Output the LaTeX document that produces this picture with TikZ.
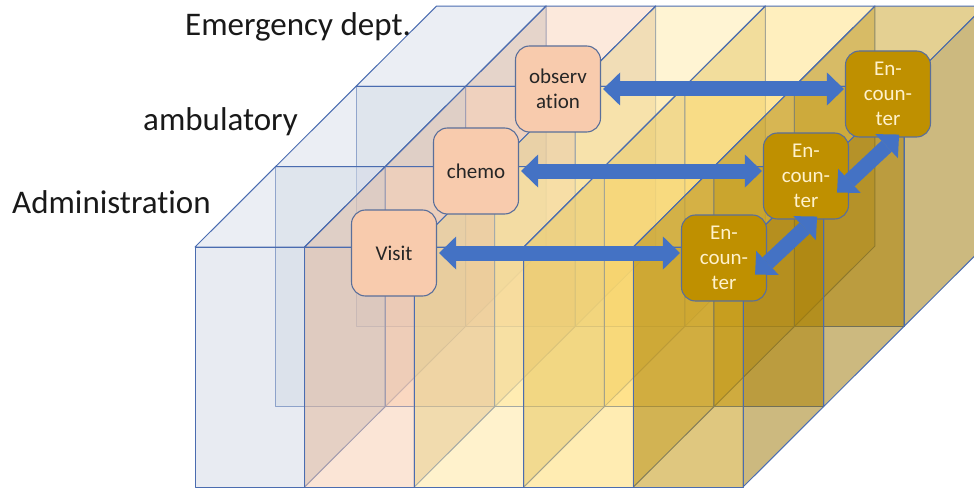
\documentclass[tikz,border=0pt]{standalone}
\usepackage{fontspec}
\setmainfont{Carlito}[Ligatures=NoCommon]
\usetikzlibrary{arrows.meta,positioning,calc}

\definecolor{edgeblue}{HTML}{4A6CB0}
\definecolor{boxline}{HTML}{5A6F9A}
\definecolor{arrowblue}{HTML}{4472C4}
\definecolor{colA}{HTML}{D1D8E5}
\definecolor{colB}{HTML}{F8CBAD}
\definecolor{colC}{HTML}{FFE699}
\definecolor{colD}{HTML}{FFD966}
\definecolor{colE}{HTML}{BF9000}
\definecolor{enctext}{HTML}{FFF2CC}

\tikzset{
    face/.style={
        draw=edgeblue,
        line width=1pt,
        line join=round,
        fill opacity=0.5
    },
    unitbox/.style={
        rectangle,
        rounded corners=14pt,
        draw=boxline, line width=1.1pt,
        minimum width=85pt,
        minimum height=86pt,
        inner sep=2pt,
        align=center,
        font=\fontsize{21}{25}\selectfont
    },
    dblarrow/.style={
        draw=arrowblue,
        line width=15pt,
        {Triangle[length=17pt,width=33pt,line width=0pt]}-{Triangle[length=17pt,width=33pt,line width=0pt]}
    }
}

\begin{document}
\begin{tikzpicture}[
            x=1pt, y=1pt,
            visitbox/.style={unitbox, fill=colB, text=black!85},
            encbox/.style={unitbox, fill=colE, text=enctext},
            layer/.style={
                anchor=base west,
                inner sep=0pt,
                text=black!90,
                font=\fontsize{33}{40}\selectfont
            }]
    \clip (0,0) rectangle (974,491);

    \foreach \k in {2,1,0}{
        \foreach \c/\col in {0/colA,1/colB,2/colC,3/colD,4/colE}{
            \coordinate (o) at ({195+109.6*\c+80.5*\k},{4+80.3*\k});
            \path[face, fill=\col!80!black] ($(o)+(109.6,0)$) -- ++(0,240) -- ++(80.5,80.3) -- ++(0,-240) -- cycle;
            \path[face, fill=\col!85!white] ($(o)+(0,240)$) -- ++(109.6,0) -- ++(80.5,80.3) -- ++(-109.6,0) -- cycle;
            \path[face, fill=\col] (o) rectangle ++(109.6,240);
        }
    }

    \node[layer] (adm) at (12,278) {Administration};
    \node[layer] (amb) at (143,360) {ambulatory};
    \node[layer] (emg) at (185,455) {Emergency dept.};

    \node[visitbox] (visit) at (394,238) {Visit};
    \node[visitbox] (chemo) at ([shift={(82,82)}]visit) {chemo};
    \node[visitbox] (observ) at ([shift={(82,82)}]chemo) {observ\\ation};

    \node[encbox] (enc1) at (724,233) {En-\\coun-\\ter};
    \node[encbox] (enc2) at ([shift={(82,82)}]enc1) {En-\\coun-\\ter};
    \node[encbox] (enc3) at ([shift={(82,82)}]enc2) {En-\\coun-\\ter};

    \draw[dblarrow, shorten <=2pt, shorten >=1pt] (visit.east) -- (visit.east -| enc1.west);
    \draw[dblarrow, shorten <=2pt, shorten >=1pt] (chemo.east) -- (chemo.east -| enc2.west);
    \draw[dblarrow, shorten <=2pt, shorten >=1pt] (observ.east) -- (observ.east -| enc3.west);

    \coordinate (low1) at ([shift={(-12,27)}]enc1.south east);
    \coordinate (up1) at ([shift={(-32,3)}]enc2.south east);
    \coordinate (low2) at ([shift={(-12,27)}]enc2.south east);
    \coordinate (up2) at ([shift={(-32,3)}]enc3.south east);
    \draw[dblarrow] (low1) -- (up1);
    \draw[dblarrow] (low2) -- (up2);
\end{tikzpicture}
\end{document}
